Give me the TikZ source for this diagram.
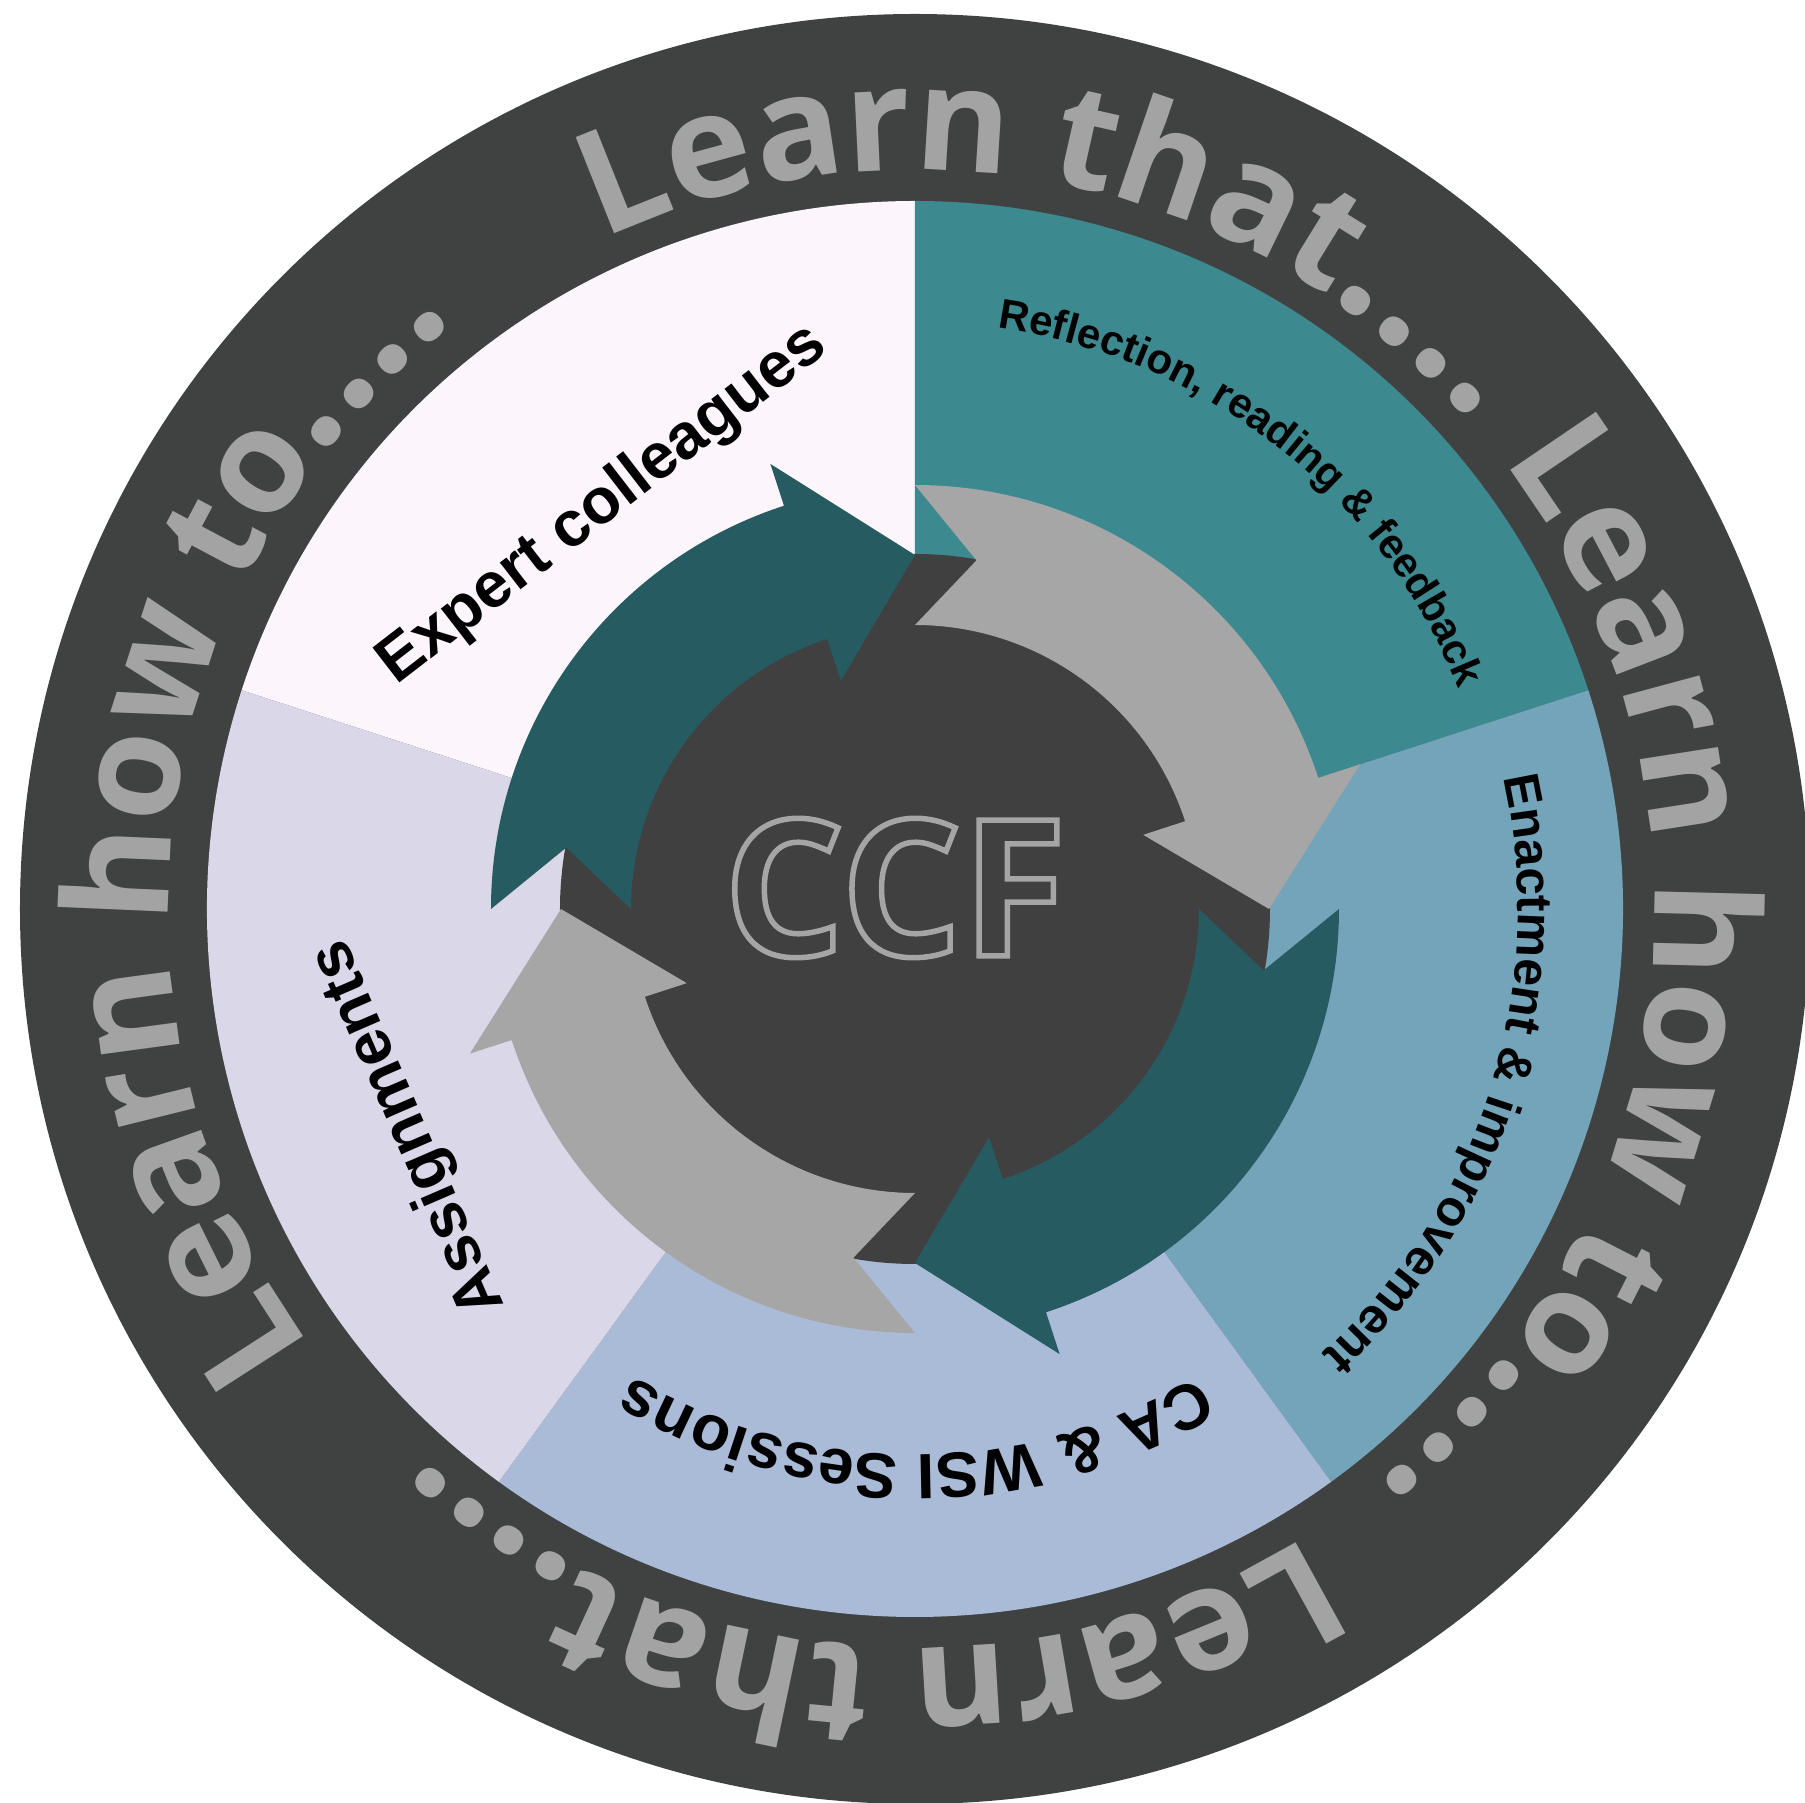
\documentclass[tikz,border=0pt]{standalone}
\usepackage{fontspec}
\usetikzlibrary{decorations.text}

\newfontfamily\ringfont{Open Sans}
\newfontfamily\labelfont{Liberation Sans}

\definecolor{ringdark}{HTML}{404141}
\definecolor{ringtext}{HTML}{A3A3A3}
\definecolor{secexpert}{HTML}{FCF6FC}
\definecolor{secreflect}{HTML}{3D8990}
\definecolor{secenact}{HTML}{74A4BA}
\definecolor{secsession}{HTML}{AABBD8}
\definecolor{secassign}{HTML}{DAD8E8}
\definecolor{arrowteal}{HTML}{275B62}
\definecolor{arrowgray}{HTML}{A6A6A6}
\definecolor{hubdark}{HTML}{404040}
\definecolor{hubline}{HTML}{A5A5A5}

% font sizes (1pt = 1 unit of the drawing)
\newcommand{\ringtxt}{\fontsize{145}{145}\selectfont\ringfont\bfseries}
\newcommand{\ringdots}{\fontsize{168}{168}\selectfont\ringfont\bfseries}
\newcommand{\reflecttxt}{\fontsize{42}{42}\selectfont\labelfont\bfseries}
\newcommand{\enacttxt}{\fontsize{50}{50}\selectfont\labelfont\bfseries}
\newcommand{\sessiontxt}{\fontsize{64}{64}\selectfont\labelfont\bfseries}
\newcommand{\bigtxt}{\fontsize{64}{64}\selectfont\labelfont\bfseries}
\newcommand{\hubtxt}{\fontsize{190}{190}\selectfont\ringfont\bfseries}

% one wide curved arrow, running clockwise from its tail angle #1 over 90 degrees
\newcommand{\cyclearrow}[2]{%
  \fill[#2] (#1:424) -- (#1-10:354) -- (#1:284)
    arc[start angle=#1, end angle=#1-72, radius=284]
    -- (#1-72:240) -- (#1-90:354) -- (#1-72:468) -- (#1-72:424)
    arc[start angle=#1-72, end angle=#1, radius=424] -- cycle;}

% text set clockwise on a circle of radius #2, centred at angle #1
\newcommand{\ringtext}[4]{%
  \path[decorate, decoration={text along path, text align=center,
      text color=#3, text={#4}}]
    (#1+70:#2) arc[start angle=#1+70, end angle=#1-70, radius=#2];}

\tikzset{
  flatlabel/.style={inner sep=0pt, text=black}
}

\begin{document}
\begin{tikzpicture}[x=1pt, y=1pt]
  \useasboundingbox (-915,-894) rectangle (890,909);
  \fill[white] (-915,-894) rectangle (890,909);

  % outer ring
  \fill[ringdark] (0,0) circle[radius=895];

  % five sectors
  \fill[secexpert]  (0,0) -- (162:708) arc[start angle=162, end angle=90,  radius=708] -- cycle;
  \fill[secreflect] (0,0) -- (90:708)  arc[start angle=90,  end angle=18,  radius=708] -- cycle;
  \fill[secenact]   (0,0) -- (18:708)  arc[start angle=18,  end angle=-54, radius=708] -- cycle;
  \fill[secsession] (0,0) -- (-54:708) arc[start angle=-54, end angle=-126,radius=708] -- cycle;
  \fill[secassign]  (0,0) -- (-126:708) arc[start angle=-126,end angle=-198,radius=708] -- cycle;

  % hub
  \fill[hubdark] (0,0) circle[radius=355];

  % cycle of arrows
  \cyclearrow{90}{arrowgray}
  \cyclearrow{0}{arrowteal}
  \cyclearrow{-90}{arrowgray}
  \cyclearrow{180}{arrowteal}

  % hub title, outlined letters
  \node[inner sep=0pt, text=hubline, font=\hubtxt] (hub) at (-20,21)
    {\special{pdf:literal direct 1 Tr 5.5 w}CCF\special{pdf:literal direct 0 Tr}};

  % sector labels
  \node[flatlabel, font=\bigtxt, rotate=37.7] (expert) at (127.7:510) {Expert colleagues};
  \node[flatlabel, font=\bigtxt, rotate=113.4] (assign) at (203.4:551) {Assignments};
  \ringtext{52}{587}{black}{|\reflecttxt|Reflection, reading {\&} feedback}
  \ringtext{-17.5}{603}{black}{|\enacttxt|Enactment {\&} improvement}
  \ringtext{-90}{546}{black}{|\sessiontxt|CA {\&} WSI Sessions}

  % words round the outer ring
  \ringtext{78}{739}{ringtext}{|\ringtxt|Learn that|\ringdots|....}
  \ringtext{-7}{739}{ringtext}{|\ringtxt|Learn how to|\ringdots|....}
  \ringtext{-95}{739}{ringtext}{|\ringtxt|Learn that|\ringdots|....}
  \ringtext{172}{746}{ringtext}{|\ringtxt|Learn how to|\ringdots|....}
\end{tikzpicture}
\end{document}
